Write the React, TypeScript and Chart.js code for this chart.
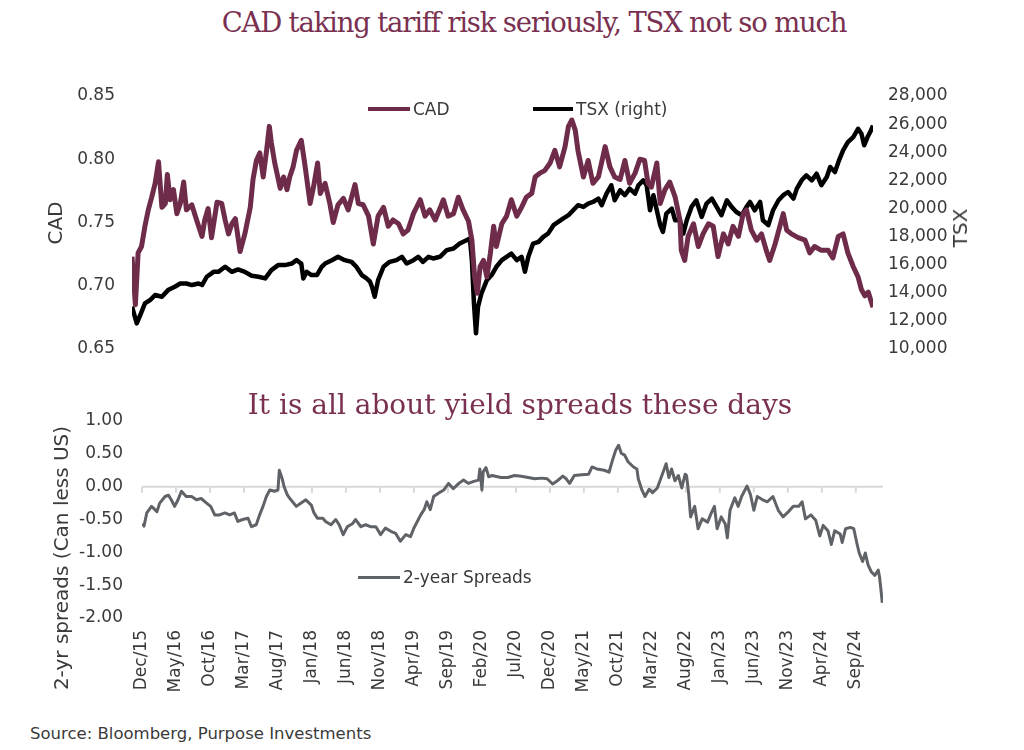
import React, { useEffect, useRef } from 'react';
import { Chart, registerables } from 'chart.js';

Chart.register(...registerables);

// ---------- DATA (months since start of Dec 2015) ----------
const cadMonths = [0, 0.5, 0.9, 1.4, 1.9, 2.4, 2.9, 3.4, 3.9, 4.4, 4.9, 5.2, 5.6, 6.1, 6.6, 7.1, 7.6, 8.0, 8.8, 9.5, 10.3, 10.7, 11.2, 11.7, 12.5, 13.2, 13.7, 14.2, 14.7, 15.2, 15.9, 16.6, 17.4, 17.8, 18.3, 18.8, 19.3, 19.8, 20.2, 20.5, 21.0, 21.8, 22.3, 22.8, 23.2, 23.7, 24.2, 24.9, 25.4, 26.2, 26.7, 27.3, 27.7, 28.4, 29.1, 29.6, 30.3, 31.1, 31.8, 32.8, 33.3, 34.0, 34.8, 35.5, 36.2, 37.0, 37.7, 38.4, 39.2, 39.9, 40.6, 41.4, 42.4, 43.1, 43.8, 44.6, 45.3, 45.8, 46.5, 47.3, 48.0, 48.7, 49.5, 50.0, 50.4, 50.8, 51.2, 51.7, 52.2, 52.7, 53.2, 53.6, 54.4, 55.1, 55.8, 56.6, 57.3, 58.0, 58.8, 59.3, 60.0, 60.7, 61.5, 62.2, 62.9, 63.7, 64.2, 64.7, 65.2, 65.6, 66.4, 67.1, 67.8, 68.6, 69.6, 70.3, 71.0, 71.8, 72.5, 73.2, 74.0, 74.7, 75.4, 75.9, 76.4, 77.2, 77.7, 78.4, 79.1, 79.9, 80.6, 80.8, 81.3, 81.8, 82.6, 83.3, 84.0, 84.8, 85.5, 86.2, 87.0, 87.7, 88.4, 89.2, 89.9, 90.4, 91.1, 91.9, 92.6, 93.3, 93.8, 94.6, 95.3, 95.8, 96.3, 97.0, 98.0, 99.0, 99.7, 100.4, 101.4, 102.4, 103.1, 103.9, 104.6, 105.3, 106.1, 106.8, 107.3, 107.8, 108.3, 109.0];
const cadValues = [0.723, 0.685, 0.726, 0.731, 0.747, 0.760, 0.770, 0.781, 0.798, 0.762, 0.765, 0.788, 0.768, 0.776, 0.757, 0.765, 0.782, 0.760, 0.764, 0.752, 0.739, 0.752, 0.761, 0.738, 0.766, 0.765, 0.752, 0.741, 0.749, 0.753, 0.727, 0.741, 0.762, 0.784, 0.799, 0.805, 0.786, 0.807, 0.826, 0.813, 0.797, 0.777, 0.786, 0.776, 0.786, 0.794, 0.807, 0.815, 0.797, 0.765, 0.778, 0.797, 0.773, 0.781, 0.765, 0.750, 0.764, 0.769, 0.760, 0.780, 0.765, 0.764, 0.755, 0.733, 0.755, 0.762, 0.747, 0.752, 0.749, 0.741, 0.744, 0.757, 0.768, 0.755, 0.760, 0.752, 0.761, 0.768, 0.755, 0.757, 0.770, 0.760, 0.751, 0.736, 0.707, 0.694, 0.715, 0.720, 0.707, 0.725, 0.747, 0.731, 0.749, 0.755, 0.768, 0.755, 0.762, 0.770, 0.773, 0.786, 0.789, 0.791, 0.797, 0.807, 0.794, 0.810, 0.826, 0.831, 0.823, 0.807, 0.786, 0.799, 0.781, 0.786, 0.810, 0.794, 0.786, 0.784, 0.799, 0.781, 0.789, 0.800, 0.799, 0.781, 0.778, 0.797, 0.765, 0.776, 0.782, 0.770, 0.752, 0.728, 0.720, 0.739, 0.749, 0.731, 0.741, 0.749, 0.747, 0.723, 0.741, 0.733, 0.747, 0.739, 0.757, 0.760, 0.744, 0.736, 0.741, 0.728, 0.720, 0.733, 0.747, 0.757, 0.744, 0.741, 0.738, 0.736, 0.726, 0.731, 0.728, 0.728, 0.722, 0.739, 0.741, 0.726, 0.715, 0.707, 0.697, 0.692, 0.695, 0.683];

const tsxMonths = [0, 0.7, 1.2, 1.9, 2.7, 3.4, 4.4, 5.3, 6.3, 7.1, 8.0, 8.8, 9.8, 10.3, 11.0, 12.0, 12.7, 13.7, 14.7, 15.6, 16.6, 17.6, 18.6, 19.6, 20.5, 21.5, 22.5, 23.5, 24.2, 24.9, 25.2, 25.7, 26.4, 27.2, 27.9, 28.4, 29.4, 30.3, 31.3, 32.3, 33.0, 33.8, 34.5, 35.0, 35.3, 35.7, 36.2, 37.0, 37.9, 38.9, 39.7, 40.4, 41.4, 42.1, 42.8, 43.6, 44.3, 45.3, 46.3, 47.3, 48.2, 49.2, 49.7, 50.0, 50.3, 50.6, 50.9, 51.4, 52.2, 52.9, 53.6, 54.4, 55.1, 55.8, 56.6, 57.3, 57.8, 58.3, 59.0, 59.8, 60.5, 61.2, 62.0, 62.7, 63.4, 64.2, 64.9, 65.6, 66.4, 67.1, 67.8, 68.6, 69.1, 69.8, 70.5, 71.0, 71.8, 72.5, 73.2, 74.0, 74.5, 75.2, 75.7, 76.2, 76.7, 77.2, 77.7, 78.1, 78.6, 79.4, 79.9, 80.6, 81.1, 81.6, 82.3, 83.0, 83.8, 84.5, 85.3, 86.0, 86.7, 87.5, 88.2, 88.9, 89.7, 90.4, 90.9, 91.6, 92.4, 92.8, 93.6, 94.3, 95.1, 95.8, 96.5, 97.3, 97.8, 98.5, 99.2, 100.0, 100.7, 101.4, 102.2, 102.7, 103.4, 104.0, 104.6, 105.3, 106.1, 106.8, 107.3, 107.7, 108.2, 108.7, 109.0];
const tsxValues = [13010, 11820, 12400, 13240, 13500, 13840, 13720, 14190, 14430, 14660, 14660, 14550, 14660, 14550, 15140, 15490, 15490, 15850, 15490, 15660, 15490, 15210, 15140, 15020, 15610, 15970, 15970, 16080, 16320, 16080, 15020, 15490, 15260, 15260, 15850, 16080, 16320, 16560, 16320, 16200, 15850, 15260, 15020, 14800, 14430, 13720, 14900, 15850, 16200, 16320, 16560, 16080, 16320, 16560, 16200, 16560, 16440, 16560, 17030, 17150, 17500, 17740, 17860, 16320, 13240, 11120, 13010, 13950, 14900, 15260, 15850, 16320, 16560, 16790, 16320, 16560, 15490, 16560, 17500, 17620, 17980, 18210, 18810, 19040, 19280, 19520, 19870, 20230, 20110, 20340, 20460, 20700, 20230, 21050, 21650, 20580, 21290, 20940, 21410, 21050, 21650, 22000, 21650, 19870, 20940, 19870, 18810, 18330, 19630, 19990, 19160, 19160, 18210, 19160, 20110, 20580, 19400, 20340, 20700, 20110, 19520, 20580, 20110, 19750, 19520, 20110, 20460, 19870, 20460, 19160, 18810, 19870, 20580, 20940, 21170, 20700, 21410, 22000, 22360, 22000, 22470, 21650, 22240, 22950, 22590, 23420, 24130, 24720, 25080, 25670, 25310, 24490, 25080, 25550, 25900];

const spreadMonths = [0.1, 0.3, 0.7, 1.4, 2.2, 2.6, 3.4, 3.9, 4.3, 4.8, 5.3, 5.8, 6.5, 7.3, 8.0, 8.7, 9.5, 10.1, 10.7, 11.4, 12.2, 12.9, 13.6, 14.1, 14.8, 15.6, 16.1, 16.8, 17.3, 17.8, 18.3, 18.8, 19.5, 20.0, 20.2, 20.6, 20.9, 21.4, 21.9, 22.7, 23.4, 24.1, 24.9, 25.3, 25.8, 26.6, 27.0, 27.8, 28.5, 29.0, 29.6, 30.2, 31.0, 31.4, 32.2, 32.9, 33.6, 34.4, 35.1, 35.8, 36.6, 37.3, 38.0, 38.8, 39.5, 40.0, 40.5, 41.0, 41.5, 41.9, 42.4, 42.9, 43.6, 44.4, 45.1, 45.8, 46.6, 47.3, 48.0, 48.8, 49.5, 49.7, 50.0, 50.2, 50.6, 51.0, 51.5, 52.8, 53.8, 54.8, 55.8, 56.8, 57.8, 58.8, 59.6, 60.4, 61.1, 61.9, 62.4, 62.9, 63.6, 64.7, 65.7, 66.2, 66.9, 68.0, 68.7, 69.2, 69.7, 70.1, 70.5, 71.0, 71.5, 72.3, 72.8, 73.0, 73.5, 74.0, 74.6, 75.1, 75.8, 76.3, 77.1, 77.5, 77.9, 78.4, 78.9, 79.4, 79.9, 80.1, 80.4, 80.7, 81.3, 81.8, 82.4, 83.2, 83.7, 84.2, 84.6, 85.2, 85.8, 86.1, 86.5, 87.2, 87.7, 88.2, 89.0, 89.5, 90.0, 90.5, 91.3, 92.0, 92.8, 93.6, 94.3, 95.1, 95.8, 96.6, 97.1, 97.6, 98.4, 99.1, 99.7, 100.2, 100.9, 101.4, 101.9, 102.7, 103.0, 103.5, 104.2, 104.7, 105.2, 105.5, 106.0, 106.4, 106.8, 107.3, 107.8, 108.3, 108.5, 108.9];
const spreadValues = [-0.56, -0.60, -0.40, -0.30, -0.38, -0.25, -0.15, -0.13, -0.20, -0.30, -0.20, -0.07, -0.15, -0.15, -0.20, -0.18, -0.25, -0.30, -0.43, -0.43, -0.40, -0.43, -0.40, -0.53, -0.50, -0.48, -0.61, -0.58, -0.43, -0.30, -0.15, -0.05, -0.07, -0.05, 0.25, 0.13, 0.00, -0.13, -0.20, -0.30, -0.25, -0.20, -0.28, -0.40, -0.48, -0.48, -0.53, -0.58, -0.50, -0.58, -0.73, -0.61, -0.56, -0.50, -0.61, -0.58, -0.61, -0.61, -0.73, -0.63, -0.68, -0.71, -0.83, -0.73, -0.76, -0.63, -0.53, -0.43, -0.35, -0.23, -0.35, -0.15, -0.10, -0.05, 0.05, -0.03, 0.05, 0.10, 0.05, 0.08, 0.10, 0.27, -0.05, 0.23, 0.29, 0.15, 0.17, 0.14, 0.14, 0.17, 0.16, 0.14, 0.12, 0.13, 0.12, 0.04, 0.09, 0.16, 0.12, 0.05, 0.17, 0.18, 0.19, 0.30, 0.27, 0.25, 0.22, 0.40, 0.56, 0.63, 0.51, 0.48, 0.38, 0.30, 0.27, 0.12, -0.04, -0.15, -0.04, -0.09, -0.02, 0.12, 0.35, 0.14, 0.27, 0.09, 0.17, -0.02, 0.19, 0.17, -0.09, -0.46, -0.30, -0.64, -0.49, -0.54, -0.41, -0.30, -0.64, -0.46, -0.57, -0.78, -0.36, -0.17, -0.30, -0.15, 0.01, -0.12, -0.36, -0.15, -0.20, -0.23, -0.15, -0.36, -0.46, -0.38, -0.30, -0.30, -0.23, -0.49, -0.43, -0.51, -0.75, -0.59, -0.67, -0.88, -0.67, -0.72, -0.85, -0.64, -0.62, -0.64, -0.88, -1.01, -1.14, -1.01, -1.19, -1.30, -1.35, -1.27, -1.38, -1.77];

const cadTicks = [0.65, 0.70, 0.75, 0.80, 0.85];
const tsxTicks = [10000, 12000, 14000, 16000, 18000, 20000, 22000, 24000, 26000, 28000];
const spreadTicks = [-2.0, -1.5, -1.0, -0.5, 0.0, 0.5, 1.0];
const xTickMonths = [0, 5, 10, 15, 20, 25, 30, 35, 40, 45, 50, 55, 60, 65, 70, 75, 80, 85, 90, 95, 100, 105];
const xTickLabels = ['Dec/15', 'May/16', 'Oct/16', 'Mar/17', 'Aug/17', 'Jan/18', 'Jun/18', 'Nov/18', 'Apr/19', 'Sep/19', 'Feb/20', 'Jul/20', 'Dec/20', 'May/21', 'Oct/21', 'Mar/22', 'Aug/22', 'Jan/23', 'Jun/23', 'Nov/23', 'Apr/24', 'Sep/24'];

// ---------- STYLE ----------
const SANS = '"DejaVu Sans", sans-serif';
const SERIF = '"DejaVu Serif", "Liberation Serif", serif';
const MAROON = '#6e2c4a';
const TITLE = '#7a3050';
const GRAYLINE = '#5f6266';
const TEXT = '#3a3a3a';
const TICK_SIZE = 17;

const pts = (xs: number[], ys: number[]) => xs.map((x, i) => ({ x, y: ys[i] }));

const zeroLinePlugin = {
  id: 'zeroLine',
  beforeDatasetsDraw(chart: any) {
    const { ctx, chartArea, scales } = chart;
    const y0 = scales.y.getPixelForValue(0);
    ctx.save();
    ctx.strokeStyle = '#d9d9d9';
    ctx.lineWidth = 2;
    ctx.beginPath();
    ctx.moveTo(chartArea.left, y0);
    ctx.lineTo(chartArea.right, y0);
    scales.x.ticks.forEach((t: any) => {
      const px = scales.x.getPixelForValue(t.value);
      ctx.moveTo(px, y0);
      ctx.lineTo(px, y0 + 6);
    });
    ctx.stroke();
    ctx.restore();
  },
};

function TopChart() {
  const ref = useRef<HTMLCanvasElement>(null);
  useEffect(() => {
    const chart = new Chart(ref.current as HTMLCanvasElement, {
      type: 'line',
      data: {
        datasets: [
          { label: 'CAD', data: pts(cadMonths, cadValues), borderColor: MAROON, borderWidth: 5, pointRadius: 0, yAxisID: 'y', order: 1, borderJoinStyle: 'round' },
          { label: 'TSX (right)', data: pts(tsxMonths, tsxValues), borderColor: '#000000', borderWidth: 4.5, pointRadius: 0, yAxisID: 'y2', order: 2, borderJoinStyle: 'round' },
        ],
      },
      options: {
        responsive: false,
        animation: false,
        layout: { padding: { top: 30, bottom: 30, left: 0, right: 0 } },
        plugins: { legend: { display: false }, tooltip: { enabled: false } },
        scales: {
          x: { type: 'linear', min: 0, max: 109, display: false },
          y: {
            type: 'linear', position: 'left', min: 0.65, max: 0.85,
            afterBuildTicks: (s: any) => { s.ticks = cadTicks.map((value) => ({ value })); },
            afterFit: (s: any) => { s.width = 132; },
            grid: { display: false, drawTicks: false },
            border: { display: false },
            ticks: { padding: 17, color: TEXT, font: { family: SANS, size: TICK_SIZE }, callback: (v: any) => Number(v).toFixed(2) },
          },
          y2: {
            type: 'linear', position: 'right', min: 10000, max: 28000,
            afterBuildTicks: (s: any) => { s.ticks = tsxTicks.map((value) => ({ value })); },
            afterFit: (s: any) => { s.width = 151; },
            grid: { display: false, drawTicks: false },
            border: { display: false },
            ticks: { padding: 15, color: TEXT, font: { family: SANS, size: TICK_SIZE }, callback: (v: any) => Number(v).toLocaleString('en-US') },
          },
        },
      } as any,
    });
    return () => chart.destroy();
  }, []);
  return <canvas ref={ref} width={1024} height={313} style={{ position: 'absolute', left: 0, top: 66 }} />;
}

function BottomChart() {
  const ref = useRef<HTMLCanvasElement>(null);
  useEffect(() => {
    const chart = new Chart(ref.current as HTMLCanvasElement, {
      type: 'line',
      data: {
        datasets: [
          { label: '2-year Spreads', data: pts(spreadMonths, spreadValues), borderColor: GRAYLINE, borderWidth: 3, pointRadius: 0, borderJoinStyle: 'round' },
        ],
      },
      options: {
        responsive: false,
        animation: false,
        layout: { padding: { top: 32, bottom: 0, left: 0, right: 141 } },
        plugins: { legend: { display: false }, tooltip: { enabled: false } },
        scales: {
          x: {
            type: 'linear', min: 0, max: 109,
            afterBuildTicks: (s: any) => { s.ticks = xTickMonths.map((value) => ({ value })); },
            afterFit: (s: any) => { s.height = 79; },
            grid: { display: false, drawTicks: false },
            border: { display: false },
            ticks: {
              autoSkip: false, maxRotation: 90, minRotation: 90, padding: 12, color: TEXT,
              font: { family: SANS, size: TICK_SIZE },
              callback: (v: any) => { const i = xTickMonths.indexOf(Number(v)); return i >= 0 ? xTickLabels[i] : ''; },
            },
          },
          y: {
            type: 'linear', min: -2, max: 1,
            afterBuildTicks: (s: any) => { s.ticks = spreadTicks.map((value) => ({ value })); },
            afterFit: (s: any) => { s.width = 142; },
            grid: { display: false, drawTicks: false },
            border: { display: false },
            ticks: { padding: 19, color: TEXT, font: { family: SANS, size: TICK_SIZE }, callback: (v: any) => Number(v).toFixed(2) },
          },
        },
      } as any,
      plugins: [zeroLinePlugin],
    });
    return () => chart.destroy();
  }, []);
  return <canvas ref={ref} width={1024} height={308} style={{ position: 'absolute', left: 0, top: 389 }} />;
}

const abs = (o: any) => ({ position: 'absolute' as const, whiteSpace: 'nowrap' as const, ...o });

function LegendItem({ left, top, color, width, text, thick }: any) {
  return (
    <div style={abs({ left, top, height: 20, display: 'flex', alignItems: 'center', fontFamily: SANS, fontSize: 17, color: TEXT })}>
      <span style={{ display: 'inline-block', width, height: thick, background: color, marginRight: 3 }} />
      <span>{text}</span>
    </div>
  );
}

export default function App() {
  return (
    <div style={{ position: 'absolute', left: 0, top: 0, width: 1024, height: 750, background: '#ffffff', overflow: 'hidden' }}>
      <TopChart />
      <BottomChart />
      <div style={abs({ left: 0, width: 1068, top: 4, textAlign: 'center', fontFamily: SERIF, fontSize: 27.5, letterSpacing: '-1.2px', lineHeight: '36px', color: TITLE })}>
        CAD taking tariff risk seriously, TSX not so much
      </div>
      <div style={abs({ left: 0, width: 1040, top: 387, textAlign: 'center', fontFamily: SERIF, fontSize: 28, lineHeight: '36px', color: TITLE })}>
        It is all about yield spreads these days
      </div>
      <LegendItem left={368} top={99} color={MAROON} width={42} thick={4} text="CAD" />
      <LegendItem left={533} top={99} color="#000000" width={40} thick={4} text="TSX (right)" />
      <LegendItem left={358} top={567} color={GRAYLINE} width={42} thick={3} text="2-year Spreads" />
      <div style={abs({ left: 55, top: 223, transform: 'translate(-50%, -50%) rotate(-90deg)', fontFamily: SANS, fontSize: 20, color: TEXT })}>CAD</div>
      <div style={abs({ left: 960, top: 228, transform: 'translate(-50%, -50%) rotate(-90deg)', fontFamily: SANS, fontSize: 20, color: TEXT })}>TSX</div>
      <div style={abs({ left: 61, top: 558, transform: 'translate(-50%, -50%) rotate(-90deg)', fontFamily: SANS, fontSize: 20, color: TEXT })}>2-yr spreads (Can less US)</div>
      <div style={abs({ left: 30, top: 724, fontFamily: SANS, fontSize: 16.5, color: TEXT })}>Source: Bloomberg, Purpose Investments</div>
    </div>
  );
}
